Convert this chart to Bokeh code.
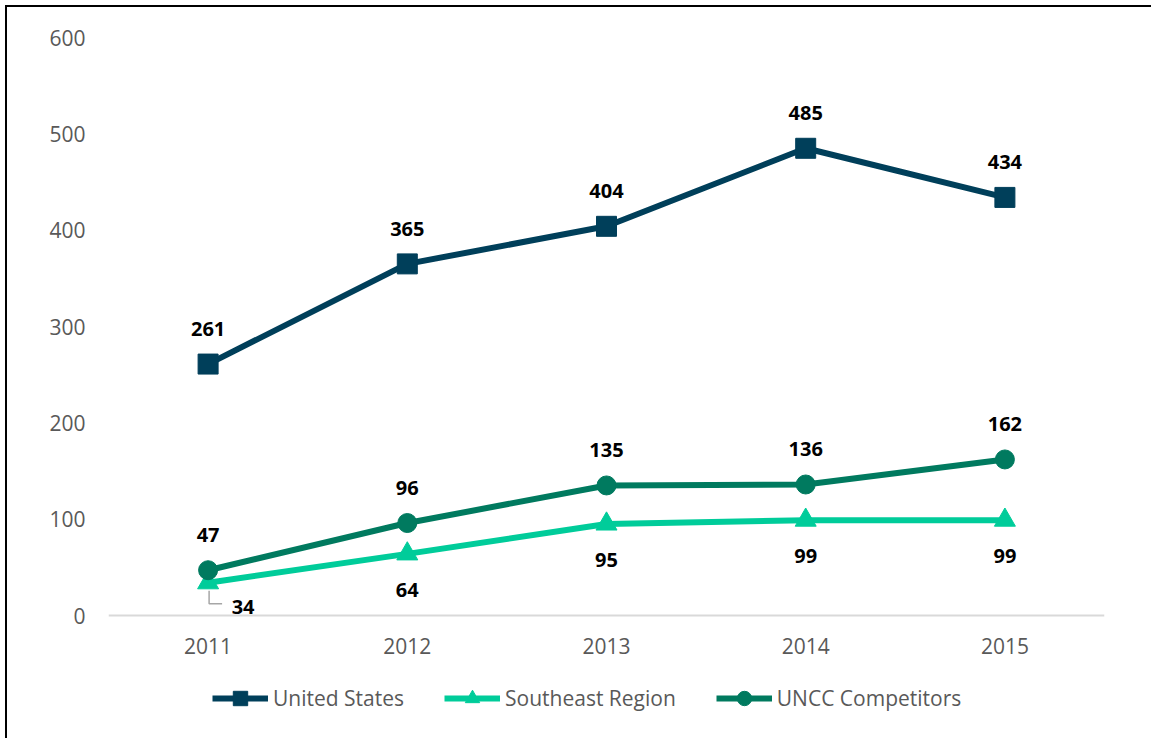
from bokeh.plotting import figure
from bokeh.models import Range1d, FixedTicker, Legend, LegendItem, ColumnDataSource
from bokeh.core.properties import value
from bokeh.embed import file_html
from bokeh.resources import INLINE

years = ["2011", "2012", "2013", "2014", "2015"]
us = [261, 365, 404, 485, 434]
southeast = [34, 64, 95, 99, 99]
uncc = [47, 96, 135, 136, 162]
y_ticks = [0, 100, 200, 300, 400, 500, 600]

C_US = "#003F5A"
C_SE = "#00CC9A"
C_UN = "#007A5F"
FONT = "Open Sans"

xs = list(range(len(years)))

H = 733
# frame: y=600 at 30px, y=0 at 608px, frame bottom at H (legend lives inside the frame)
ppu = (608 - 30) / 600.0
y_bottom = -(H - 608) / ppu

p = figure(width=1146, height=H, output_backend="svg", toolbar_location=None,
           x_range=Range1d(-0.5, len(years) - 0.5), y_range=Range1d(y_bottom, 600),
           min_border_left=101, min_border_right=49, min_border_top=30, min_border_bottom=0)
p.styles = {"border-top": "2px solid #000000", "border-left": "2px solid #000000",
            "margin-left": "5px", "margin-top": "5px"}
p.outline_line_color = None
p.grid.grid_line_color = None

p.xaxis.fixed_location = 0
p.xaxis.ticker = FixedTicker(ticks=xs)
p.xaxis.major_label_overrides = {i: y for i, y in enumerate(years)}
p.xaxis.major_tick_line_color = None
p.xaxis.minor_tick_line_color = None
p.xaxis.axis_line_color = "#D9D9D9"
p.xaxis.axis_line_width = 2
p.xaxis.major_label_standoff = 16

p.yaxis.ticker = FixedTicker(ticks=y_ticks)
p.yaxis.major_tick_line_color = None
p.yaxis.minor_tick_line_color = None
p.yaxis.axis_line_color = None
p.yaxis.major_label_standoff = 17

for ax in (p.xaxis, p.yaxis):
    ax.major_label_text_font = FONT
    ax.major_label_text_font_size = "21px"
    ax.major_label_text_color = "#595959"

src = ColumnDataSource(dict(x=xs, us=us, se=southeast, un=uncc,
                            us_t=[str(v) for v in us], se_t=[str(v) for v in southeast],
                            un_t=[str(v) for v in uncc]))

l_us = p.line("x", "us", source=src, line_color=C_US, line_width=6)
m_us = p.scatter("x", "us", source=src, marker="square", size=20, fill_color=C_US, line_color=C_US)
l_se = p.line("x", "se", source=src, line_color=C_SE, line_width=6)
m_se = p.scatter("x", "se", source=src, marker="triangle", size=21, fill_color=C_SE, line_color=C_SE)
l_un = p.line("x", "un", source=src, line_color=C_UN, line_width=6)
m_un = p.scatter("x", "un", source=src, marker="circle", size=19, fill_color=C_UN, line_color=C_UN)

lab = dict(text_font=value(FONT), text_font_size="20px", text_font_style="bold",
           text_color="#000000", text_align="center", text_baseline="middle")
p.text("x", "us", text="us_t", source=src, y_offset=-35, **lab)
p.text("x", "un", text="un_t", source=src, y_offset=-35, **lab)

# Southeast labels below, first one offset with a leader line
se_src = ColumnDataSource(dict(x=xs[1:], y=southeast[1:], t=[str(v) for v in southeast[1:]]))
p.text("x", "y", text="t", source=se_src, y_offset=36, **lab)
p.text([xs[0]], [southeast[0]], text=[str(southeast[0])], x_offset=35, y_offset=24, **lab)

ppx = 996 / 5.0
lx = [xs[0] + 1 / ppx, xs[0] + 1 / ppx, xs[0] + 14 / ppx]
ly = [southeast[0] - 8 / ppu, southeast[0] - 21 / ppu, southeast[0] - 21 / ppu]
p.line(lx, ly, line_color="#A6A6A6", line_width=1.5)

legend = Legend(items=[
    LegendItem(label="United States", renderers=[l_us, m_us]),
    LegendItem(label="Southeast Region", renderers=[l_se, m_se]),
    LegendItem(label="UNCC Competitors", renderers=[l_un, m_un]),
], orientation="horizontal", location=(104, 24))
legend.label_text_font = FONT
legend.label_text_font_size = "21px"
legend.label_text_color = "#595959"
legend.glyph_width = 56
legend.glyph_height = 36
legend.label_standoff = 5
legend.spacing = 40
legend.margin = 0
legend.padding = 0
legend.border_line_color = None
legend.background_fill_alpha = 0
p.add_layout(legend)

open("out.html", "w").write(file_html(p, INLINE))
